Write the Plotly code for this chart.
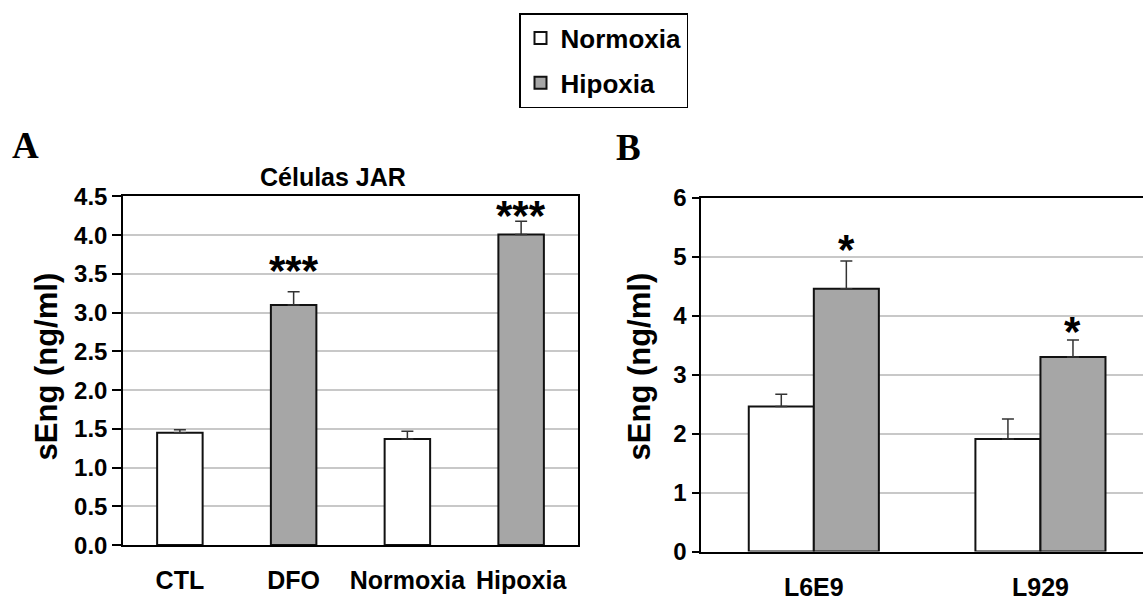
import plotly.graph_objects as go

# ---- data ----
a_categories = ["CTL", "DFO", "Normoxia", "Hipoxia"]
a_values = [1.45, 3.10, 1.37, 4.01]
a_errors = [0.04, 0.17, 0.10, 0.17]
a_stars = ["", "***", "", "***"]

b_categories = ["L6E9", "L929"]
b_normoxia = [2.46, 1.91]
b_normoxia_err = [0.21, 0.34]
b_hipoxia = [4.46, 3.30]
b_hipoxia_err = [0.47, 0.29]
b_stars = ["*", "*"]

a_yticks = [0, 0.5, 1.0, 1.5, 2.0, 2.5, 3.0, 3.5, 4.0, 4.5]
b_yticks = [0, 1, 2, 3, 4, 5, 6]

WHITE = "#ffffff"
GRAY = "#a6a6a6"
FONT = "Liberation Sans, Arial, sans-serif"

a_colors = [WHITE, GRAY, WHITE, GRAY]

fig = go.Figure()

fig.add_trace(go.Bar(
    x=a_categories, y=a_values, width=0.4,
    marker=dict(color=a_colors, line=dict(color="#111111", width=2)),
    error_y=dict(type="data", array=a_errors, arrayminus=[0]*len(a_errors), symmetric=False,
                 color="#333333", thickness=1.5, width=6),
    xaxis="x", yaxis="y", showlegend=False,
))

fig.add_trace(go.Bar(
    x=b_categories, y=b_normoxia, name="Normoxia", legendgroup="n",
    marker=dict(color=WHITE, line=dict(color="#111111", width=2)),
    error_y=dict(type="data", array=b_normoxia_err, arrayminus=[0]*2, symmetric=False,
                 color="#333333", thickness=1.5, width=6),
    xaxis="x2", yaxis="y2",
))
fig.add_trace(go.Bar(
    x=b_categories, y=b_hipoxia, name="Hipoxia", legendgroup="h",
    marker=dict(color=GRAY, line=dict(color="#111111", width=2)),
    error_y=dict(type="data", array=b_hipoxia_err, arrayminus=[0]*2, symmetric=False,
                 color="#333333", thickness=1.5, width=6),
    xaxis="x2", yaxis="y2",
))

W, H = 1143, 603
def px_x(p): return p / W
def px_y(p): return (H - p) / H

axis_font = dict(family=FONT, size=24, color="black", weight="bold")
label_font = dict(family=FONT, size=25, color="black", weight="bold")

fig.update_layout(
    width=W, height=H, margin=dict(l=0, r=0, t=0, b=0),
    paper_bgcolor="white", plot_bgcolor="white",
    barmode="group", bargap=0.426, bargroupgap=0,
    xaxis=dict(domain=[px_x(123), px_x(578)], range=[-0.5, 3.5], type="category",
               anchor="y",
               showline=True, linecolor="black", linewidth=1.5, mirror=True,
               ticks="", tickfont=label_font, ticklabelstandoff=12, showgrid=False),
    yaxis=dict(domain=[px_y(556), px_y(191)], range=[0, 4.5], tickvals=a_yticks,
               anchor="x",
               ticktext=[f"{v:.1f}" for v in a_yticks],
               showline=True, linecolor="black", linewidth=1.5, mirror=True,
               ticks="outside", ticklen=9, tickcolor="black", tickwidth=1.5,
               tickfont=axis_font, showgrid=True, gridcolor="#c8c8c8", gridwidth=1.5,
               zeroline=False),
    xaxis2=dict(domain=[px_x(700.5), 1.0], range=[-0.5, 1.4525], type="category",
                anchor="y2",
                showline=True, linecolor="black", linewidth=2, mirror=True,
                ticks="", tickfont=label_font, ticklabelstandoff=12, showgrid=False),
    yaxis2=dict(domain=[px_y(562.7), px_y(192.5)], range=[0, 6], tickvals=b_yticks,
                anchor="x2",
                showline=True, linecolor="black", linewidth=2, mirror=False,
                ticks="outside", ticklen=7, tickcolor="black", tickwidth=1.5,
                tickfont=axis_font, showgrid=True, gridcolor="#c8c8c8", gridwidth=1.5,
                zeroline=False),
    legend=dict(x=px_x(519), y=px_y(-1), xanchor="left", yanchor="top",
                bordercolor="black", borderwidth=1.5, bgcolor="white",
                font=dict(family=FONT, size=26, color="black", weight="bold"),
                tracegroupgap=8, itemwidth=30),
)

ann = []
# panel letters
ann.append(dict(text="A", x=px_x(10), y=px_y(138), xref="paper", yref="paper",
                xanchor="left", yanchor="middle", showarrow=False,
                font=dict(family="Liberation Serif, Times New Roman, serif", size=37,
                          color="black", weight="bold")))
ann.append(dict(text="B", x=px_x(614), y=px_y(140), xref="paper", yref="paper",
                xanchor="left", yanchor="middle", showarrow=False,
                font=dict(family="Liberation Serif, Times New Roman, serif", size=37,
                          color="black", weight="bold")))
# subplot title
ann.append(dict(text="Células JAR", x=px_x(333), y=px_y(171), xref="paper", yref="paper",
                xanchor="center", yanchor="middle", showarrow=False,
                font=dict(family=FONT, size=25, color="black", weight="bold")))
# y-axis titles
for cx in (46, 639):
    ann.append(dict(text="sEng (ng/ml)", x=px_x(cx), y=px_y(369), xref="paper", yref="paper",
                    xanchor="center", yanchor="middle", textangle=-90, showarrow=False,
                    font=dict(family=FONT, size=31, color="black", weight="bold")))
# significance stars
a_shift = [0, -4, 0, -20]
for c, v, e, s, sh in zip(a_categories, a_values, a_errors, a_stars, a_shift):
    if s:
        ann.append(dict(text=s, x=c, y=v + e, xref="x", yref="y", xanchor="center",
                        yanchor="bottom", yshift=sh, showarrow=False,
                        font=dict(family=FONT, size=42, color="black", weight="bold")))
b_shift = [-14, -17]
for i, (c, v, e, s) in enumerate(zip(b_categories, b_hipoxia, b_hipoxia_err, b_stars)):
    ann.append(dict(text=s, x=c, y=v + e, xref="x2", yref="y2", xanchor="center",
                    xshift=32.5, yanchor="bottom", yshift=b_shift[i], showarrow=False,
                    font=dict(family=FONT, size=42, color="black", weight="bold")))
fig.update_layout(annotations=ann)

fig.write_html("out.html")
